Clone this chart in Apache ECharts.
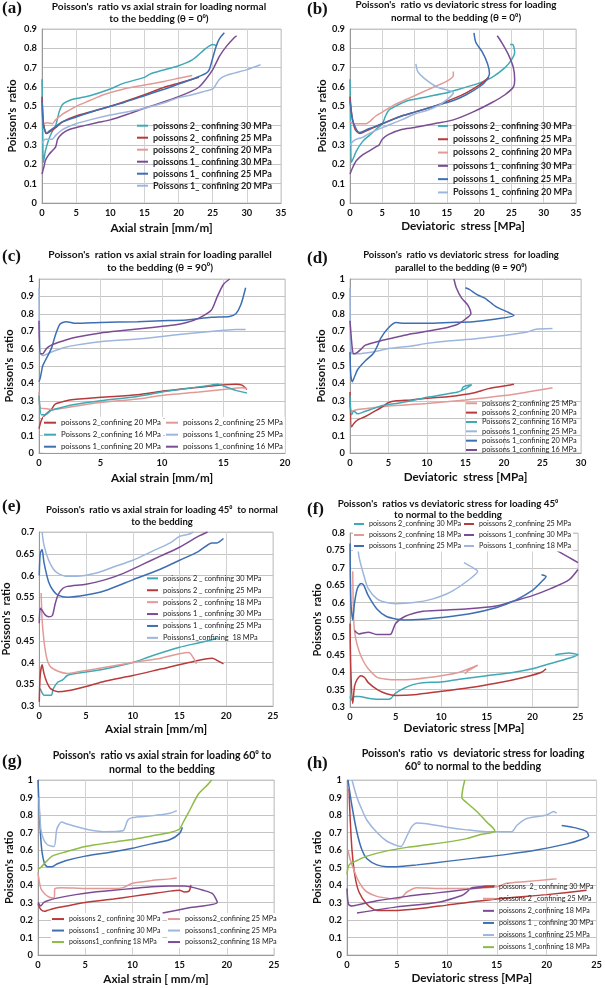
<!DOCTYPE html>
<html><head><meta charset="utf-8">
<script src="https://cdn.jsdelivr.net/npm/echarts@6/dist/echarts.min.js"></script>
<style>html,body{margin:0;padding:0;background:#fff}#c{width:605px;height:988px}</style>
</head><body><div id="c"></div>
<script>
// ---------------- DATA ----------------
// Panel (a): Poisson's ratio vs axial strain, theta = 0
const A_P2_30 = [[0,0.64],[0.1,0.4],[0.2,0.21],[0.5,0.27],[1,0.33],[1.5,0.37],[2,0.40],[2.5,0.47],[3,0.51],[4,0.53],[5,0.54],[7,0.555],[10,0.59],[12,0.62],[15,0.65],[16,0.67],[20,0.71],[22,0.74],[24,0.80],[25,0.82],[25.5,0.815]];
const A_P2_25 = [[0,0.55],[0.2,0.42],[0.5,0.365],[0.7,0.36],[1,0.365],[2,0.39],[3,0.42],[5,0.45],[10,0.50],[15,0.56],[18,0.60],[20,0.62],[22,0.64],[23,0.65]];
const A_P2_20 = [[0,0.52],[0.2,0.41],[0.8,0.415],[1.5,0.41],[2,0.43],[3,0.46],[4,0.48],[5,0.50],[7,0.53],[9,0.56],[12,0.59],[15,0.61],[18,0.63],[20,0.645],[22,0.66]];
const A_P1_30 = [[0,0.15],[0.3,0.19],[0.5,0.22],[1,0.25],[1.5,0.27],[2,0.29],[2.3,0.33],[3,0.36],[4,0.38],[5,0.39],[8,0.415],[10,0.43],[13,0.465],[15,0.49],[18,0.525],[20,0.55],[22,0.58],[23,0.60],[24,0.64],[25,0.69],[26,0.76],[27,0.81],[28,0.85],[28.5,0.865]];
const A_P1_25 = [[0,0.53],[0.2,0.4],[0.5,0.37],[0.7,0.36],[1,0.37],[2,0.395],[3,0.42],[5,0.445],[8,0.48],[10,0.50],[12,0.52],[15,0.555],[18,0.59],[20,0.615],[22,0.64],[23,0.655],[24,0.67],[24.5,0.69],[25,0.75],[25.5,0.81],[26,0.85],[26.7,0.88]];
const A_P1_20 = [[0,0.31],[0.5,0.33],[1.5,0.33],[2,0.35],[3,0.38],[5,0.41],[7,0.43],[10,0.455],[13,0.475],[15,0.49],[18,0.52],[20,0.545],[22,0.56],[24,0.58],[25,0.59],[26,0.64],[27,0.66],[30,0.69],[32,0.715]];
// Panel (b): Poisson's ratio vs deviatoric stress, theta = 0
const B_P2_30 = [[0,0.64],[0.1,0.4],[0.2,0.21],[0.5,0.23],[1,0.27],[2,0.32],[3,0.35],[4,0.38],[5,0.41],[5.5,0.45],[6,0.48],[7,0.50],[9,0.53],[12,0.55],[15,0.57],[17,0.59],[20,0.62],[22,0.65],[24,0.70],[25,0.74],[25.5,0.78],[25.2,0.82],[24.8,0.82]];
const B_P2_25 = [[0,0.55],[0.3,0.45],[0.8,0.38],[1.5,0.36],[2,0.365],[3,0.38],[5,0.41],[8,0.45],[10,0.47],[13,0.50],[16,0.54],[18,0.57],[20,0.61],[21.5,0.65]];
const B_P2_20 = [[0,0.42],[0.5,0.41],[1,0.41],[2.5,0.41],[3,0.42],[4,0.45],[5,0.47],[7,0.51],[9,0.54],[11,0.57],[13,0.60],[15,0.63],[16,0.66],[16,0.68]];
const B_P1_30 = [[0,0.15],[0.5,0.19],[1,0.22],[2,0.25],[3,0.27],[4,0.29],[4.5,0.30],[5,0.33],[6,0.355],[8,0.38],[10,0.39],[13,0.41],[16,0.43],[19,0.47],[22,0.52],[24,0.56],[25.3,0.60],[25.5,0.64],[25.3,0.70],[24.5,0.77],[23.5,0.83],[22.8,0.865]];
const B_P1_25 = [[0,0.53],[0.4,0.43],[1,0.38],[1.5,0.365],[2,0.37],[3,0.385],[5,0.41],[8,0.45],[10,0.47],[13,0.50],[16,0.53],[18,0.56],[20,0.60],[21,0.63],[21.6,0.67],[21.3,0.72],[20.5,0.78],[19.5,0.83],[19.2,0.88]];
const B_P1_20 = [[0,0.3],[0.5,0.32],[1,0.33],[2,0.34],[3,0.36],[5,0.39],[8,0.43],[10,0.46],[12,0.48],[14,0.51],[16,0.57],[13.5,0.60],[11.5,0.645],[10.5,0.68],[10.2,0.72]];
// Panel (c): Poisson's ratio vs axial strain, theta = 90
const C_P2_20 = [[0,0.14],[0.2,0.19],[0.5,0.22],[1,0.25],[1.3,0.28],[1.7,0.29],[2.5,0.305],[5,0.32],[8,0.335],[10,0.355],[12,0.37],[14,0.385],[16,0.395],[16.5,0.39],[16.9,0.365]];
const C_P2_25 = [[0,0.35],[0.1,0.26],[0.5,0.255],[1,0.25],[3,0.27],[5,0.29],[8,0.31],[10,0.33],[13,0.35],[15,0.365],[16.5,0.375],[16.9,0.37]];
const C_P2_16 = [[0,0.33],[0.2,0.22],[0.5,0.22],[1,0.245],[2,0.265],[3,0.28],[5,0.30],[8,0.325],[10,0.35],[12,0.37],[14,0.39],[14.5,0.395],[15,0.385],[16,0.36],[16.9,0.345]];
const C_P1_25 = [[0,0.95],[0.1,0.58],[0.3,0.56],[1,0.58],[2,0.605],[3,0.62],[5,0.64],[8,0.655],[10,0.67],[12,0.685],[15,0.705],[16,0.71],[16.8,0.71]];
const C_P1_20 = [[0,0.41],[0.1,0.43],[0.3,0.5],[0.5,0.53],[1,0.6],[1.3,0.67],[1.7,0.74],[2.2,0.755],[3,0.745],[5,0.75],[8,0.755],[10,0.76],[12,0.765],[14,0.78],[15.5,0.785],[16,0.8],[16.4,0.85],[16.8,0.95]];
const C_P1_16 = [[0,0.76],[0.1,0.57],[0.3,0.57],[0.6,0.6],[1,0.62],[2,0.645],[3,0.665],[5,0.69],[7,0.705],[9,0.72],[11,0.735],[12,0.75],[13,0.775],[14,0.82],[14.5,0.9],[15,0.97],[15.5,1.0]];
// Panel (d): Poisson's ratio vs deviatoric stress, theta = 90
const D_P2_25 = [[0,0.3],[0.2,0.24],[1,0.25],[3,0.26],[5,0.27],[10,0.285],[15,0.305],[20,0.33],[23,0.35],[25,0.365],[26.3,0.375]];
const D_P2_20 = [[0,0.35],[0.2,0.15],[0.5,0.17],[1,0.19],[2,0.21],[3,0.235],[4,0.26],[5,0.29],[6,0.30],[8,0.305],[10,0.315],[13,0.325],[16,0.345],[18,0.37],[20,0.385],[21.3,0.395]];
const D_P2_16 = [[0,0.33],[0.2,0.22],[0.5,0.24],[1,0.225],[2,0.24],[3,0.255],[4,0.27],[6,0.285],[8,0.30],[10,0.32],[12,0.335],[14,0.35],[15,0.37],[15.8,0.392],[14.7,0.38],[14.5,0.36]];
const D_P1_25 = [[0,0.95],[0.1,0.6],[0.3,0.57],[1,0.57],[2,0.575],[3,0.58],[5,0.6],[8,0.615],[10,0.63],[13,0.645],[16,0.655],[20,0.675],[23,0.695],[24,0.71],[26.3,0.715]];
const D_P1_20 = [[0,0.58],[0.1,0.45],[0.3,0.41],[0.6,0.44],[1,0.48],[2,0.53],[3,0.57],[3.5,0.61],[4,0.66],[5,0.72],[6,0.75],[7,0.745],[10,0.745],[13,0.75],[16,0.755],[19,0.77],[21.3,0.79],[20.5,0.81],[19,0.84],[17.5,0.89],[16.5,0.91],[15.5,0.94],[15,0.95]];
const D_P1_16 = [[0,0.76],[0.3,0.6],[0.5,0.57],[1,0.58],[1.5,0.6],[2,0.62],[4,0.645],[6,0.665],[8,0.685],[10,0.70],[12,0.715],[14,0.74],[15,0.77],[15.7,0.8],[15.3,0.85],[14.5,0.89],[13.8,0.95],[13.5,1.0]];
// Panel (e): Poisson's ratio vs axial strain, 45 deg
const E_P2_30 = [[0.1,0.34],[0.3,0.33],[0.5,0.325],[1,0.325],[1.3,0.325],[1.5,0.34],[2,0.355],[2.5,0.36],[3,0.37],[4,0.375],[5,0.378],[7,0.385],[10,0.40],[12,0.415],[15,0.435],[17,0.445],[19,0.455]];
const E_P2_25 = [[0,0.31],[0.1,0.37],[0.3,0.395],[0.5,0.375],[0.8,0.355],[1.2,0.34],[2,0.333],[3,0.335],[5,0.345],[7,0.357],[10,0.37],[13,0.385],[16,0.40],[18.5,0.41],[19,0.405],[19.7,0.397]];
const E_P2_18 = [[0.2,0.56],[0.3,0.5],[0.5,0.45],[0.8,0.41],[1.2,0.39],[2,0.38],[3,0.375],[4,0.378],[6,0.385],[10,0.40],[13,0.41],[15,0.42],[16,0.423],[16.5,0.41],[16.8,0.397]];
const E_P1_30 = [[0,0.49],[0.1,0.525],[0.3,0.52],[0.6,0.51],[1,0.505],[1.4,0.508],[1.7,0.535],[2,0.555],[2.5,0.57],[3,0.575],[5,0.58],[7,0.59],[9,0.605],[11,0.625],[13,0.645],[15,0.665],[17,0.69],[18,0.7]];
const E_P1_25 = [[0,0.6],[0.1,0.65],[0.3,0.66],[0.5,0.63],[1,0.585],[1.5,0.565],[2,0.555],[3,0.55],[5,0.555],[7,0.565],[10,0.59],[13,0.615],[15,0.635],[17,0.655],[18.5,0.675],[19,0.675],[19.7,0.685]];
const E_P1_18 = [[0.3,0.7],[0.5,0.67],[1,0.635],[1.5,0.615],[2,0.605],[3,0.598],[4,0.598],[6,0.605],[8,0.62],[10,0.635],[12,0.655],[14,0.675],[15,0.69],[16,0.695],[16.5,0.7]];
// Panel (f): Poisson's ratio vs deviatoric stress, 45 deg
const F_P2_30 = [[0,0.33],[0.2,0.32],[0.5,0.33],[1,0.33],[2,0.325],[3,0.322],[4,0.322],[4.5,0.325],[5,0.34],[6,0.355],[7,0.365],[8,0.37],[10,0.372],[12,0.38],[15,0.39],[18,0.40],[20,0.41],[22,0.425],[24,0.44],[25,0.45],[24,0.455],[22.5,0.45]];
const F_P2_25 = [[0,0.54],[0.1,0.4],[0.3,0.31],[0.5,0.36],[0.8,0.38],[1.2,0.39],[1.6,0.385],[2,0.37],[3,0.35],[4,0.338],[5,0.333],[7,0.335],[10,0.345],[13,0.355],[16,0.368],[19,0.385],[21,0.40],[21.5,0.41]];
const F_P2_18 = [[0.3,0.69],[0.4,0.55],[0.6,0.5],[1,0.46],[1.5,0.43],[2,0.41],[3,0.385],[4,0.38],[5,0.378],[7,0.38],[10,0.39],[12,0.40],[14,0.42],[13,0.405],[12.6,0.395]];
const F_P1_30 = [[0.5,0.52],[1,0.51],[2,0.515],[3,0.508],[4,0.508],[4.5,0.51],[5,0.54],[6,0.56],[8,0.575],[10,0.578],[13,0.582],[16,0.59],[18,0.605],[20,0.62],[22,0.64],[24,0.665],[25,0.695],['-','-'],[22,0.76],[24,0.73],[25,0.715]];
const F_P1_25 = [[0,0.77],[0.1,0.6],[0.3,0.55],[0.5,0.6],[0.8,0.64],[1.2,0.655],[1.5,0.65],[2,0.62],[3,0.58],[4,0.56],[5,0.553],[6,0.55],[8,0.552],[10,0.557],[13,0.567],[16,0.585],[18,0.605],[20,0.635],[21,0.66],[21.5,0.675],[21,0.68]];
const F_P1_18 = [[0.5,0.8],[0.8,0.77],[1,0.73],[1.5,0.68],[2,0.64],[3,0.61],[4,0.6],[5,0.597],[7,0.6],[9,0.61],[11,0.63],[13,0.665],[14,0.69],[13.5,0.7],[12.5,0.715]];
// Panel (g): Poisson's ratio vs axial strain, 60 deg
const G_P2_30 = [[0,0.29],[0.3,0.26],[0.7,0.25],[1,0.255],[2,0.27],[3,0.28],[5,0.3],[8,0.32],[10,0.335],[12,0.35],[14,0.365],[15,0.37],[15.5,0.36],[16,0.365],[16.2,0.40]];
const G_P2_25 = [[0,0.47],[0.3,0.38],[0.7,0.35],[1.2,0.33],[1.7,0.325],[1.8,0.38],[2.5,0.385],[5,0.38],[8,0.38],[9,0.385],[10,0.41],[12,0.425],[14,0.435],[14.7,0.44]];
const G_P1_30 = [[0,1.0],[0.2,0.75],[0.4,0.6],[0.7,0.52],[1,0.505],[1.5,0.505],[2,0.52],[3,0.54],[5,0.565],[8,0.59],[10,0.61],[12,0.635],[14,0.66],[15,0.695],[15.3,0.73]];
const G_P1_25 = [[0.1,0.9],[0.3,0.72],[0.6,0.66],[1,0.63],[1.7,0.62],[2,0.72],[2.5,0.76],[3,0.75],[5,0.72],[7,0.705],[9,0.71],[9.5,0.77],[10,0.785],[12,0.795],[14,0.81],[14.7,0.825]];
const G_P1_18 = [[0,0.49],[0.3,0.5],[0.8,0.53],[1.5,0.565],[3,0.59],[5,0.62],[8,0.645],[10,0.66],[12,0.68],[14,0.70],[15,0.72],[15.3,0.75],[16,0.82],[17,0.92],[18,0.975],[18.4,1.0]];
const G_P2_18 = [[0,0.3],[0.3,0.28],[0.6,0.3],[1,0.31],[2,0.325],[4,0.345],[6,0.36],[8,0.37],[10,0.38],[12,0.39],[14,0.395],[15.5,0.395],[16.5,0.385],[17.5,0.37],[18.5,0.35],[19,0.3],[16,0.27],[13.2,0.24]];
// Panel (h): Poisson's ratio vs deviatoric stress, 60 deg
const H_P2_30 = [[0.2,0.95],[0.3,0.8],[0.5,0.6],[0.8,0.45],[1.2,0.36],[2,0.29],[3,0.255],[5,0.255],[8,0.27],[10,0.285],[15,0.32],[20,0.345],[24,0.37]];
const H_P2_25 = [[0.1,0.6],[0.3,0.55],[0.6,0.5],[1,0.44],[1.5,0.39],[2,0.36],[3,0.335],[4,0.325],[5,0.32],[5.5,0.33],[6,0.36],[7,0.385],[9,0.38],[12,0.38],[15,0.39],[16,0.41],[18,0.42],[20,0.43],[21,0.435]];
const H_P2_18 = [[0,0.38],[0.15,0.29],[0.5,0.28],[1,0.285],[3,0.31],[6,0.335],[9,0.355],[12,0.375],[14,0.39],[14.8,0.395],[12.5,0.385],[12,0.36],[11.5,0.34],[9,0.30],[5,0.275],[1,0.24]];
const H_P1_30 = [[0.1,1.0],[0.5,0.85],[1,0.7],[1.5,0.6],[2,0.55],[3,0.515],[4,0.505],[5,0.505],[7,0.515],[10,0.535],[13,0.555],[16,0.575],[19,0.6],[22,0.635],[23.5,0.66],[24.2,0.68],[24,0.705],[23,0.725],[21.5,0.74]];
const H_P1_25 = [[0.5,1.0],[1,0.9],[1.5,0.83],[2,0.77],[3,0.7],[4,0.65],[5,0.625],[5.4,0.62],[6,0.68],[6.5,0.735],[7,0.755],[8,0.75],[10,0.73],[12,0.715],[14,0.705],[16.5,0.705],[17,0.74],[18,0.78],[20,0.8],[20.7,0.82],[21,0.81]];
const H_P1_18 = [[0,0.46],[0.1,0.5],[0.3,0.52],[1,0.54],[2,0.565],[4,0.595],[6,0.615],[8,0.63],[10,0.645],[12,0.665],[13.5,0.69],[14.5,0.7],[14.8,0.71],[14,0.76],[13,0.82],[12,0.87],[11.5,0.9],[11.6,0.95],[11.8,1.0]];

// Legend labels
const LBL_AB = ['poissons 2_ confining 30 MPa','poissons 2_ confining 25 MPa','poissons 2_ confining 20 MPa','poissons 1_ confining 30 MPa','poissons 1_ confining 25 MPa','Poissons 1_ confining 20 MPa'];
const LBL_CD = ['poissons 2_confining 20 MPa','poissons 2_confining 25 MPa','Poissons 2_confining 16 MPa','poissons 1_confining 25 MPa','poissons 1_confining 20 MPa','poissons 1_confining 16 MPa'];
const LBL_E = ['poissons 2 _ confining 30 MPa','poissons 2 _ confining 25 MPa','poissons 2 _ confining 18 MPa','poissons 1 _ confining 30 MPa','poissons 1 _ confining 25 MPa','Poissons1_confining  18 MPa'];
const LBL_F = ['poissons 2_confining 30 MPa','poissons 2_confining 25 MPa','poissons 2_confining 18 MPa','poissons 1_confining 30 MPa','poissons 1_confining 25 MPa','Poissons 1_confining 18 MPa'];
const LBL_G = ['poissons 2_ confining 30 MPa','poissons2_confining 25 MPa','poissons1 _ confining 30 MPa','poissons1_confining 25 MPa','poissons1_confining 18 MPa','poissons2_confining 18 MPa'];
const LBL_H = ['poissons  2_ confining 30 MPa','poissons 2 _confining 25 MPa','poissons 2_confining 18 MPa','poissons 1 _ confining 30 MPa','poissons 1_confining 25 MPa','poissons 1_confining 18 MPa'];

// ---------------- STYLE / LAYOUT ----------------
const C = {teal:'#3fa9b5', red:'#b83a3a', pink:'#e29a96', purple:'#7b4c94', blue:'#3e6fb3', lblue:'#9db6dd', green:'#8dbb45'};
const FONT = 'Lato, "Liberation Sans", sans-serif';

// font size that makes a text span a given width (widths measured on the reference)
const _ctx = document.createElement('canvas').getContext('2d');
function fit(text, width, weight) {
  _ctx.font = (weight || 'normal') + ' 100px ' + FONT;
  return Math.round(1000 * width / _ctx.measureText(text).width) / 10;
}
const FS_TICK = Math.min(10.5, fit('0.9', 13, 'bold'));
const FS_XNAME = fit('Axial strain [mm/m]', 102, 'bold');
const FS_YNAME = fit("Poisson's  ratio", 73, 'bold');

const panels = [
 {id:'a', tag:'(a)', tagPos:[2,0], grid:{left:42,top:29,width:239,height:174}, x:[0,35,5], y:[0,0.9,0.1],
  title:"Poisson's  ratio vs axial strain for loading normal\nto the bedding (θ = 0⁰)", tw:215, tc:[159,1], lh:12,
  xName:'Axial strain [mm/m]', xGap:19, yGap:24,
  series:[[LBL_AB[0],C.teal,A_P2_30],[LBL_AB[1],C.red,A_P2_25],[LBL_AB[2],C.pink,A_P2_20],[LBL_AB[3],C.purple,A_P1_30],[LBL_AB[4],C.blue,A_P1_25],[LBL_AB[5],C.lblue,A_P1_20]],
  legends:[{items:[0,1,2,3,4,5], left:137, top:119.7, pitch:12, iw:11, lw:119, bold:true}]},
 {id:'b', tag:'(b)', tagPos:[307,1], grid:{left:350,top:29,width:226,height:174}, x:[0,35,5], y:[0,0.9,0.1],
  title:"Poisson's  ratio vs deviatoric stress for loading\nnormal to the bedding (θ = 0⁰)", tw:202, tc:[456,-1], lh:12.5,
  xName:'Deviatoric  stress [MPa]', xGap:17, yGap:22,
  series:[[LBL_AB[0],C.teal,B_P2_30],[LBL_AB[1],C.red,B_P2_25],[LBL_AB[2],C.pink,B_P2_20],[LBL_AB[3],C.purple,B_P1_30],[LBL_AB[4],C.blue,B_P1_25],[LBL_AB[5],C.lblue,B_P1_20]],
  legends:[{items:[0,1,2,3,4,5], left:438, top:119.3, pitch:13.3, iw:10, lw:119, bold:true}]},
 {id:'c', tag:'(c)', tagPos:[2,248], grid:{left:39,top:279,width:246,height:174}, x:[0,20,5], y:[0,1,0.1],
  title:"Poisson's  ration vs axial strain for loading parallel\nto the bedding (θ = 90⁰)", tw:223, tc:[160,248.5], lh:13,
  xName:'Axial strain [mm/m]', xGap:19, yGap:24,
  series:[[LBL_CD[0],C.red,C_P2_20],[LBL_CD[1],C.pink,C_P2_25],[LBL_CD[2],C.teal,C_P2_16],[LBL_CD[3],C.lblue,C_P1_25],[LBL_CD[4],C.blue,C_P1_20],[LBL_CD[5],C.purple,C_P1_16]],
  legends:[{items:[0,2,4], left:43, top:416.7, pitch:12, iw:12, lw:100, bg:true},{items:[1,3,5], left:165, top:416.7, pitch:12, iw:12, lw:100, bg:true}]},
 {id:'d', tag:'(d)', tagPos:[307,250], grid:{left:350,top:279,width:231,height:174}, x:[0,30,5], y:[0,1,0.1],
  title:"Poisson's  ratio vs deviatoric stress  for loading\nparallel to the bedding (θ = 90⁰)", tw:195, tc:[461,248.5], lh:13,
  xName:'Deviatoric  stress [MPa]', xGap:18, yGap:23,
  series:[[LBL_CD[1],C.pink,D_P2_25],[LBL_CD[0],C.red,D_P2_20],[LBL_CD[2],C.teal,D_P2_16],[LBL_CD[3],C.lblue,D_P1_25],[LBL_CD[4],C.blue,D_P1_20],[LBL_CD[5],C.purple,D_P1_16]],
  legends:[{items:[0,1,2,3,4,5], left:466, top:398.6, pitch:9.35, iw:11, lw:95}]},
 {id:'e', tag:'(e)', tagPos:[2,498], grid:{left:39,top:532,width:234,height:174}, x:[0,25,5], y:[0.3,0.7,0.05],
  title:"Poisson's  ratio vs axial strain for loading 45⁰  to normal\nto the bedding", tw:233, tc:[162,504], lh:12,
  xName:'Axial strain [mm/m]', xGap:17, yGap:25,
  series:[[LBL_E[0],C.teal,E_P2_30],[LBL_E[1],C.red,E_P2_25],[LBL_E[2],C.pink,E_P2_18],[LBL_E[3],C.purple,E_P1_30],[LBL_E[4],C.blue,E_P1_25],[LBL_E[5],C.lblue,E_P1_18]],
  legends:[{items:[0,1,2,3,4,5], left:147, top:572.4, pitch:11.9, iw:11, lw:98}]},
 {id:'f', tag:'(f)', tagPos:[307,501], grid:{left:350,top:533,width:228,height:174}, x:[0,25,5], y:[0.3,0.8,0.05],
  title:"Poisson's  ratios vs deviatoric stress for loading 45⁰\nto normal to the bedding", tw:220, tc:[448,498.5], lh:11,
  xName:'Deviatoric stress [MPa]', xGap:15, yGap:25,
  series:[[LBL_F[0],C.teal,F_P2_30],[LBL_F[1],C.red,F_P2_25],[LBL_F[2],C.pink,F_P2_18],[LBL_F[3],C.purple,F_P1_30],[LBL_F[4],C.blue,F_P1_25],[LBL_F[5],C.lblue,F_P1_18]],
  legends:[{items:[0,2,4], left:353, top:518.5, pitch:11, iw:10, lw:92, bg:true},{items:[1,3,5], left:463, top:518.5, pitch:11, iw:10, lw:92, bg:true}]},
 {id:'g', tag:'(g)', tagPos:[2,753], grid:{left:38,top:780,width:236,height:175}, x:[0,25,5], y:[0,1,0.1],
  title:"Poisson's  ratio vs axial strain for loading 60⁰ to\nnormal  to the bedding", tw:218, tc:[162,749], lh:14,
  xName:'Axial strain [ mm/m]', xGap:18, yGap:23,
  series:[[LBL_G[0],C.red,G_P2_30],[LBL_G[1],C.pink,G_P2_25],[LBL_G[2],C.blue,G_P1_30],[LBL_G[3],C.lblue,G_P1_25],[LBL_G[4],C.green,G_P1_18],[LBL_G[5],C.purple,G_P2_18]],
  legends:[{items:[0,2,4], left:51, top:913.3, pitch:11.5, iw:12, lw:92, bg:true},{items:[1,3,5], left:167, top:913.3, pitch:11.5, iw:12, lw:92, bg:true}]},
 {id:'h', tag:'(h)', tagPos:[307,755], grid:{left:347,top:780,width:252,height:175}, x:[0,25,5], y:[0,1,0.1],
  title:"Poisson's  ratio  vs  deviatoric stress for loading\n60⁰ to normal to the bedding", tw:223, tc:[473,747.5], lh:13,
  xName:'Deviatoric stress [MPa]', xGap:17, yGap:24,
  series:[[LBL_H[0],C.red,H_P2_30],[LBL_H[1],C.pink,H_P2_25],[LBL_H[2],C.purple,H_P2_18],[LBL_H[3],C.blue,H_P1_30],[LBL_H[4],C.lblue,H_P1_25],[LBL_H[5],C.green,H_P1_18]],
  legends:[{items:[0,1,2,3,4,5], left:483, top:880.6, pitch:12.1, iw:11, lw:95}]}
];

// ---------------- BUILD OPTION ----------------
const option = {animation:false, backgroundColor:'#fff', textStyle:{fontFamily:FONT},
  title:[], grid:[], xAxis:[], yAxis:[], legend:[], series:[]};

panels.forEach((p, i) => {
  const tfs = Math.min(11.5, fit(p.title.split('\n')[0], p.tw, 'bold'));
  option.grid.push(Object.assign({show:true, borderColor:'#c9c9c9', borderWidth:1, backgroundColor:'transparent'}, p.grid));
  option.title.push({text:p.title, left:p.tc[0], top:p.tc[1], textAlign:'center', padding:0,
    textStyle:{fontFamily:FONT, fontSize:tfs, fontWeight:'bold', color:'#111', lineHeight:p.lh}});
  option.title.push({text:p.tag, left:p.tagPos[0], top:p.tagPos[1], padding:0,
    textStyle:{fontFamily:'"Liberation Serif", "DejaVu Serif", serif', fontSize:17, fontWeight:'bold', color:'#111'}});
  option.xAxis.push({type:'value', gridIndex:i, min:p.x[0], max:p.x[1], interval:p.x[2],
    name:p.xName, nameLocation:'middle', nameGap:p.xGap,
    nameTextStyle:{fontFamily:FONT, fontSize:FS_XNAME, fontWeight:'bold', color:'#111'},
    axisLine:{show:true, onZero:false, lineStyle:{color:'#999'}}, axisTick:{show:false},
    axisLabel:{fontFamily:FONT, fontSize:FS_TICK, fontWeight:'bold', color:'#111', margin:5},
    splitLine:{show:true, lineStyle:{color:'#d2d2d2', width:1}}});
  option.yAxis.push({type:'value', gridIndex:i, min:p.y[0], max:p.y[1], interval:p.y[2],
    name:"Poisson's  ratio", nameLocation:'middle', nameGap:p.yGap,
    nameTextStyle:{fontFamily:FONT, fontSize:FS_YNAME, fontWeight:'bold', color:'#111'},
    axisLine:{show:true, lineStyle:{color:'#999'}}, axisTick:{show:false},
    axisLabel:{fontFamily:FONT, fontSize:FS_TICK, fontWeight:'bold', color:'#111', margin:5},
    splitLine:{show:true, lineStyle:{color:'#c4c4c4', width:1}}});
  p.series.forEach(s => {
    option.series.push({type:'line', name:p.id + '|' + s[0], xAxisIndex:i, yAxisIndex:i,
      data:s[2], symbol:'none', smooth:0.25, connectNulls:false,
      lineStyle:{color:s[1], width:1.5}, itemStyle:{color:s[1]}, z:2});
  });
  p.legends.forEach(L => {
    const weight = L.bold ? 'bold' : 'normal';
    const lfs = fit(p.series[L.items[0]][0], L.lw, weight);
    option.legend.push({orient:'vertical', left:L.left, top:L.top, itemGap:0, padding:L.bg ? [0,2,0,1] : 0,
      itemWidth:L.iw, itemHeight:2, icon:'rect',
      backgroundColor:L.bg ? '#fff' : 'transparent',
      data:L.items.map(k => ({name:p.id + '|' + p.series[k][0], itemStyle:{color:p.series[k][1]}})),
      formatter:n => n.split('|')[1],
      textStyle:{fontFamily:FONT, fontSize:lfs, fontWeight:weight, color:'#222', lineHeight:L.pitch},
      selectedMode:false});
  });
});

const chart = echarts.init(document.getElementById('c'), null, {renderer:'canvas', width:605, height:988});
chart.setOption(option);
</script>
</body></html>
